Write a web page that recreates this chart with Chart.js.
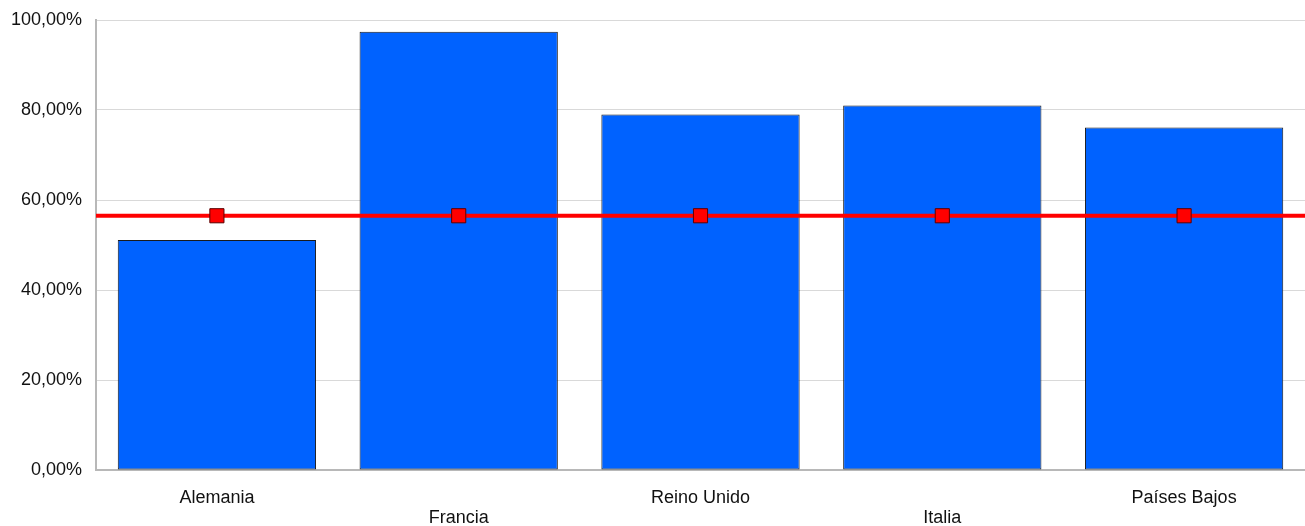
<!DOCTYPE html>
<html>
<head>
<meta charset="utf-8">
<script src="https://cdn.jsdelivr.net/npm/chart.js@4"></script>
<style>
  html, body { margin: 0; padding: 0; background: #fff; }
  #wrap { width: 1305px; height: 526px; }
</style>
</head>
<body>
<div id="wrap"><canvas id="bar-chart"></canvas></div>
<script>
var categories = ["Alemania", "Francia", "Reino Unido", "Italia", "Países Bajos"];
var barValues = [51.1, 97.4, 79.0, 81.0, 76.1];
var avgValues = [56.5, 56.5, 56.5, 56.5, 56.5];
var yTicks = [0, 20, 40, 60, 80, 100];

// odd categories go on the second row, like the original
var staggered = [];
for (var i = 0; i < categories.length; i++) {
  staggered.push(i % 2 ? ["", categories[i]] : [categories[i]]);
}

function pct(v) {
  return v.toFixed(2).replace(".", ",") + "%";
}

// red average line runs across the whole plot, not only between points
var fullLine = {
  id: "fullLine",
  beforeDatasetDraw: function(chart, args) {
    if (args.index !== 1) return;
    var area = chart.chartArea;
    var y = chart.scales.y.getPixelForValue(avgValues[0]);
    var ctx = chart.ctx;
    ctx.save();
    ctx.strokeStyle = "#ff0000";
    ctx.lineWidth = 4;
    ctx.beginPath();
    ctx.moveTo(area.left, y);
    ctx.lineTo(area.right, y);
    ctx.stroke();
    ctx.restore();
  }
};

Chart.defaults.font.family = "'Liberation Sans', Arial, sans-serif";
Chart.defaults.font.size = 18;
Chart.defaults.color = "#111";

new Chart(document.getElementById("bar-chart"), {
  type: "bar",
  data: {
    labels: staggered,
    datasets: [{
      type: "bar",
      data: barValues,
      backgroundColor: "#0062ff",
      borderColor: "#1a1a1a",
      borderWidth: 1,
      borderSkipped: false,
      barPercentage: 0.82,
      categoryPercentage: 1,
      order: 2
    }, {
      type: "line",
      data: avgValues,
      showLine: false,
      pointStyle: "rect",
      pointRadius: 10,
      pointBackgroundColor: "#ff0000",
      pointBorderColor: "#5a0000",
      pointBorderWidth: 1,
      order: 1
    }]
  },
  options: {
    responsive: true,
    maintainAspectRatio: false,
    animation: false,
    layout: { autoPadding: false, padding: { top: 20, right: 0, left: 0, bottom: 0 } },
    plugins: { legend: { display: false }, tooltip: { enabled: false } },
    scales: {
      x: {
        grid: { display: false },
        border: { color: "#b8b8b8", width: 2 },
        ticks: { padding: 10, maxRotation: 0, autoSkip: false, font: { lineHeight: "20px" } },
        afterFit: function(scale) {
          scale.height = 56;
          scale.paddingLeft = 0;
          scale.paddingRight = 0;
        }
      },
      y: {
        min: 0,
        max: 100,
        afterBuildTicks: function(scale) {
          scale.ticks = yTicks.map(function(v) { return { value: v }; });
        },
        afterFit: function(scale) {
          scale.width = 96;
          scale.paddingTop = 0;
          scale.paddingBottom = 0;
        },
        grid: { color: "#d9d9d9", drawTicks: false },
        border: { color: "#b8b8b8", width: 2 },
        ticks: { padding: 14, callback: function(v) { return pct(v); } }
      }
    }
  },
  plugins: [fullLine]
});
</script>
</body>
</html>
